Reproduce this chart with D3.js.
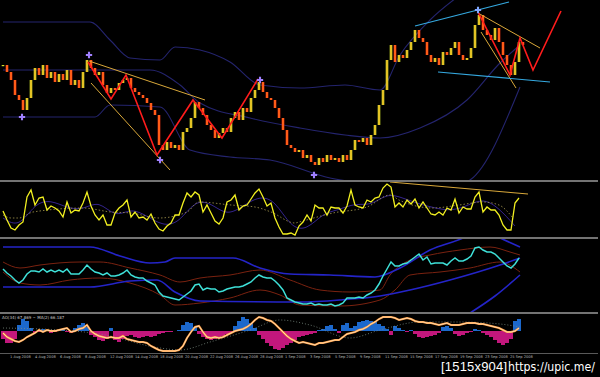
<!DOCTYPE html>
<html lang="en">
<head>
<meta charset="UTF-8">
<title>chart</title>
<script src="https://cdn.jsdelivr.net/npm/d3@7"></script>
<style>
    html, body{ margin:0; padding:0; background:#000; }
    svg{ display:block; }
    .sep{ stroke:#9a9a9a; stroke-width:1.6; }
</style>
</head>
<body>
<svg id="main-svg" width="600" height="377"></svg>
<script>

// closes per bar (main panel, arbitrary price units)
const closes = [115,108,100,85,80,70,82,100,112,105,
    115,102,108,98,106,100,110,95,100,92,
    108,120,112,105,108,95,87,92,90,97,
    100,102,92,88,85,82,77,70,65,35,
    30,38,32,35,30,48,52,62,78,72,
    65,55,50,42,47,52,48,62,68,60,
    72,68,82,90,98,88,82,80,72,62,
    50,35,32,28,30,22,25,18,15,22,
    18,25,20,22,18,25,20,30,40,38,
    42,35,45,55,75,90,120,135,118,125,
    122,130,138,150,142,138,125,118,122,115,
    128,125,132,138,125,120,122,132,155,165,
    150,145,140,152,138,125,115,105,118,138,
    135];

// bands on price panel: [bar, price]
const bandUpper = [[0,158],[21.75,158],[26.75,140],[31.75,122],[39.25,120],[43,133],[49.25,130],[56.75,118],[64.25,95],[74.25,92],[85.5,95],[94.25,90],[99.25,125],[106.75,160],[114.25,185]];
const bandMid = [[0,110],[36.75,110],[44.25,95],[49.25,77],[61.75,62],[74.25,52],[85.5,45],[94.25,42],[104.25,52],[116,80],[124.25,117],[129.25,135]];
const bandLower = [[0,63],[23,63],[26.75,75],[39.25,73],[46.75,30],[56.75,23],[66.75,20],[81.75,2],[94.25,-5],[109.25,-10],[116.75,0],[129.25,93]];

// zigzag + pattern lines
const zigLeft = [[21.25,118],[27,81],[30.75,105],[38.5,25],[47.5,80],[54.75,42],[63.75,101]];
const zigRight = [[118.75,168],[126.75,105],[129.25,142],[132.5,110],[139.5,169]];
const trendOrange = [
    [[21.5,119],[50.5,80]],
    [[22,97],[41.75,10]],
    [[118.75,167],[134.25,132]],
    [[119.5,148],[128.25,92]]
];
const trendCyan = [
    [[103,154],[126.5,178]],
    [[108.75,108],[136.75,98]]
];
const markers = [[4.75,63,'#a080ff'],[21.5,125,'#a080ff'],[39.25,20,'#a080ff'],[64.25,100,'#a080ff'],[77.75,5,'#a080ff'],[118.75,170,'#80a8ff']];

// oscillator panel
const osc = [27,18,10,8,13,16,41,48,33,40,
    41,28,32,30,27,21,36,25,28,27,
    35,46,32,23,18,23,13,13,25,30,
    33,38,21,26,20,21,18,24,15,9,
    7,12,15,23,23,35,45,41,46,43,
    26,33,25,17,14,20,36,38,43,28,
    32,33,39,45,49,41,32,35,20,11,
    4,4,5,3,12,16,23,17,33,30,
    30,23,31,30,30,25,32,48,33,31,
    30,38,36,40,41,50,54,51,31,35,
    31,38,34,39,30,36,30,24,23,26,
    23,30,28,39,25,31,29,29,41,46,
    26,31,28,28,23,13,8,8,35,40];
const oscSlow = [[0,20],[4,10],[8,35],[12,38],[16,30],[20,28],[24,38],[28,20],[32,30],[36,22],[40,12],[44,15],[48,38],[52,35],[56,22],[60,32],[64,42],[68,38],[72,10],[76,8],[80,25],[84,28],[88,35],[92,32],[96,45],[100,40],[104,34],[108,30],[112,27],[116,32],[120,40],[124,30],[128,12]];
const oscSignal = [[0,23],[2,20],[4,20],[7.5,26],[20,30],[27,26],[32,25],[39,20],[46,26],[49,36],[57,33],[63,31],[67,26],[73,15],[74,16],[82.5,25],[91,31],[96.75,43],[99,38],[107.5,30],[114,33],[120,36],[124,33],[127.5,20]];
const oscTrend = [[96.75,56],[131.25,44]];

// trend panel (cyan line + channels)
const trendLine = [44,40,37,33,30,33,39,42,42,41,
    44,41,43,41,43,41,44,39,39,39,
    43,48,44,41,40,38,40,37,37,38,
    40,43,38,36,35,35,32,30,28,21,
    17,16,15,14,13,16,19,22,28,29,
    23,25,24,24,21,22,24,25,26,26,
    27,29,31,35,38,36,35,35,32,28,
    23,15,13,11,10,9,9,10,8,9,
    8,8,9,7,8,10,15,15,15,16,
    15,18,20,23,29,37,44,51,47,47,
    49,50,53,56,59,53,56,49,50,50,
    50,48,52,55,52,52,54,57,65,66,
    63,61,61,59,55,51,47,45,49,55];
const chanBlue = [
    [[0,66],[21.75,66],[29.25,57],[36.75,50],[40.5,51],[43,55],[57.5,55],[64.25,45],[71.75,39],[81.75,38],[93,36],[99.25,45],[106.75,63],[115,75],[118,81]],
    [[0,26],[21.75,26],[31.75,32],[38.5,33],[43,21],[49.25,12],[74.25,11],[84.25,13],[94.25,17],[101.75,23],[111.75,33],[124.25,48],[129.25,55]],
    [[116.75,0],[123,17],[129.25,38]],
    [[124.25,75],[129.25,66]]
];
const chanBrown = [
    [[0,51],[4.25,45],[9.25,48],[19.25,51],[24.25,51],[31.75,45],[39.25,38],[44.25,31],[49.25,35],[56.75,38],[64.25,43],[71.75,33],[79.25,23],[86.75,21],[94.25,23],[96.75,38],[101.75,53],[106.75,58],[114.25,63],[121.75,66],[126.75,61],[129.25,58]],
    [[0,41],[4.25,30],[9.25,28],[16.75,33],[24.25,35],[31.75,30],[39.25,18],[43,8],[49.25,10],[56.75,15],[64.25,23],[69.25,18],[74.25,8],[84.25,7],[94.25,13],[98,23],[101.75,38],[109.25,41],[116.75,45],[124.25,51],[129.25,41]]
];

// histogram panel
const hist = [-8,-12,-12,-8,6,12,10,3,-2,-1,
    2,1,-2,-1,1,2,-1,-2,3,6,
    8,4,-4,-6,-9,-10,-8,3,-9,-11,
    -8,-5,-4,-6,-7,-6,-5,-6,-5,-3,
    -2,-1,-1,0,1,6,9,8,4,-3,
    -6,-8,-9,-8,-7,-5,-3,-2,5,10,
    14,12,8,3,-4,-8,-12,-15,-18,-19,
    -17,-14,-12,-9,-6,-5,-4,-3,-2,1,
    2,5,6,2,-2,6,8,3,5,9,
    10,11,10,9,7,5,2,-4,5,3,
    1,-1,1,-3,-6,-7,-6,-5,-4,-2,
    4,5,3,-3,-5,-4,-2,-1,2,1,
    -2,-4,-6,-9,-12,-14,-12,-8,10,12];
const histLine = [-2,-6,-8,-10,-11,-9,-6,-4,-2,1,
    -1,1,0,0,1,2,3,-1,0,2,
    3,6,0,-3,-5,-6,-7,-6,-7,-7,
    -5,-8,-9,-10,-11,-11,-12,-15,-17,-19,
    -20,-20,-20,-20,-19,-15,-7,-1,4,5,
    -1,-6,-7,-6,-7,-6,-4,-2,0,1,
    2,4,7,11,14,13,11,10,7,3,
    -1,-5,-8,-10,-12,-11,-12,-13,-14,-12,
    -12,-11,-10,-9,-9,-6,-3,-2,-1,1,
    2,4,7,9,12,14,14,14,13,11,
    12,13,12,10,9,9,8,8,7,6,
    7,8,6,6,6,7,8,8,8,7,
    7,6,5,4,3,1,-1,-1,0,3];
const histDots = [[0,3],[14.25,1],[24.25,-3],[39.25,-17],[44.25,-19],[51.75,-11],[61.75,1],[69.25,11],[76.75,6],[86.75,-7],[94.25,1],[104.25,9],[114.25,9],[124.25,7],[129.25,4]];

const legendText = 'AO(34) 67.869  ~ MA(2) 66.187';
const dateLabels = ['1 Aug 2008','4 Aug 2008','6 Aug 2008','8 Aug 2008','12 Aug 2008','14 Aug 2008','18 Aug 2008','20 Aug 2008','22 Aug 2008','26 Aug 2008','28 Aug 2008','1 Sep 2008','3 Sep 2008','5 Sep 2008','9 Sep 2008','11 Sep 2008','15 Sep 2008','17 Sep 2008','19 Sep 2008','23 Sep 2008','25 Sep 2008'];

let svg = d3.select('#main-svg');

const xs = d3.scaleLinear().domain([0,130]).range([3,523]);
const yPrice = d3.scaleLinear().domain([0,180]).range([180,0]);
const yOsc = d3.scaleLinear().domain([0,57]).range([238,181]);
const yTr = d3.scaleLinear().domain([0,75]).range([313,238]);
const yHist = d3.scaleLinear().domain([-22,18]).range([353,313]);

svg.append('rect').attr('width',600).attr('height',377).style('fill','#000');

// clip regions for the panels
let defs = svg.append('defs');
[['c-main',0,0,600,180],['c-osc',0,182,600,55],['c-tr',0,239,600,73],['c-hist',0,314,600,39]].forEach(c=>{
    defs.append('clipPath').attr('id',c[0]).append('rect')
        .attr('x',c[1]).attr('y',c[2]).attr('width',c[3]).attr('height',c[4]);
});

const lineOf = (y, curve) => d3.line().x(d=>xs(d[0])).y(d=>y(d[1])).curve(curve || d3.curveLinear);
const series = arr => arr.map((v,i)=>[i,v]);

// ---------- main price panel
let gMain = svg.append('g').attr('clip-path','url(#c-main)');

[bandUpper,bandMid,bandLower].forEach(b=>{
    gMain.append('path').datum(b)
        .attr('d',lineOf(yPrice,d3.curveMonotoneX))
        .style('fill','none').style('stroke','#24246e').style('stroke-width',1.1);
});

gMain.selectAll('.candle')
    .data(closes)
    .enter()
    .append('rect')
    .attr('class','candle')
    .attr('x',(d,i)=>xs(i)-1.3)
    .attr('width',2.6)
    .attr('y',(d,i)=>{
        let o = i ? closes[i-1] : d;
        return yPrice(Math.max(o,d));
    })
    .attr('height',(d,i)=>{
        let o = i ? closes[i-1] : d;
        return Math.max(1.2, Math.abs(yPrice(o)-yPrice(d)));
    })
    .style('fill',(d,i)=>{
        let o = i ? closes[i-1] : d;
        return d >= o ? '#d2e02a' : '#ff3514';
    });

// wicks in orange on the bar body centre
gMain.selectAll('.wick')
    .data(closes)
    .enter()
    .append('line')
    .attr('x1',(d,i)=>xs(i)).attr('x2',(d,i)=>xs(i))
    .attr('y1',(d,i)=>yPrice(Math.max(i ? closes[i-1] : d, d)))
    .attr('y2',(d,i)=>yPrice(Math.min(i ? closes[i-1] : d, d)))
    .style('stroke','#ff9a20').style('stroke-width',0.8);

trendOrange.forEach(t=>{
    gMain.append('path').datum(t).attr('d',lineOf(yPrice))
        .style('fill','none').style('stroke','#d9a83a').style('stroke-width',1);
});
trendCyan.forEach(t=>{
    gMain.append('path').datum(t).attr('d',lineOf(yPrice))
        .style('fill','none').style('stroke','#35a9e0').style('stroke-width',1.2);
});
[zigLeft,zigRight].forEach(z=>{
    gMain.append('path').datum(z).attr('d',lineOf(yPrice))
        .style('fill','none').style('stroke','#ff1c1c').style('stroke-width',1.6);
});

gMain.selectAll('.mark')
    .data(markers)
    .enter()
    .append('path')
    .attr('transform',d=>'translate('+xs(d[0])+' '+yPrice(d[1])+')')
    .attr('d',d3.symbol().type(d3.symbolCross).size(22))
    .style('fill',d=>d[2]);

// ---------- oscillator panel
let gOsc = svg.append('g').attr('clip-path','url(#c-osc)');
gOsc.append('path').datum(oscSlow).attr('d',lineOf(yOsc,d3.curveBasis))
    .style('fill','none').style('stroke','#34248c').style('stroke-width',1);
gOsc.append('path').datum(oscSignal).attr('d',lineOf(yOsc,d3.curveMonotoneX))
    .style('fill','none').style('stroke','#a89a50').style('stroke-width',0.8)
    .style('stroke-dasharray','1.5,2');
gOsc.append('path').datum(series(osc)).attr('d',lineOf(yOsc))
    .style('fill','none').style('stroke','#f2f020').style('stroke-width',1.3);
gOsc.append('path').datum(oscTrend).attr('d',lineOf(yOsc))
    .style('fill','none').style('stroke','#d9a83a').style('stroke-width',1);

// ---------- trend panel
let gTr = svg.append('g').attr('clip-path','url(#c-tr)');
chanBrown.forEach(c=>{
    gTr.append('path').datum(c).attr('d',lineOf(yTr,d3.curveMonotoneX))
        .style('fill','none').style('stroke','#7a2210').style('stroke-width',1);
});
chanBlue.forEach(c=>{
    gTr.append('path').datum(c).attr('d',lineOf(yTr,d3.curveMonotoneX))
        .style('fill','none').style('stroke','#2424c8').style('stroke-width',1.6);
});
gTr.append('path').datum(series(trendLine)).attr('d',lineOf(yTr))
    .style('fill','none').style('stroke','#3ee0d8').style('stroke-width',1.5);

// ---------- histogram panel
let gHist = svg.append('g').attr('clip-path','url(#c-hist)');
gHist.selectAll('.bar')
    .data(hist)
    .enter()
    .append('rect')
    .attr('x',(d,i)=>xs(i)-2)
    .attr('width',4)
    .attr('y',d=>yHist(Math.max(0,d)))
    .attr('height',d=>Math.abs(yHist(d)-yHist(0)))
    .style('fill',d=>d >= 0 ? '#1c68cc' : '#c2177c');
gHist.append('path').datum(histDots).attr('d',lineOf(yHist,d3.curveMonotoneX))
    .style('fill','none').style('stroke','#7a8a80').style('stroke-width',0.8)
    .style('stroke-dasharray','1,2');
gHist.append('path').datum(series(histLine)).attr('d',lineOf(yHist))
    .style('fill','none').style('stroke','#ff9a3c').style('stroke-width',2);
gHist.append('path').datum(series(histLine)).attr('d',lineOf(yHist))
    .style('fill','none').style('stroke','#fff2d8').style('stroke-width',0.7);

svg.append('text').attr('x',2).attr('y',319).text(legendText)
    .style('fill','#c8c8c8').style('font-family','DejaVu Sans').style('font-size','4px');

// separators and time axis
[181,238,313].forEach(y=>{
    svg.append('line').attr('class','sep').attr('x1',0).attr('x2',598).attr('y1',y).attr('y2',y);
});
svg.append('line').attr('x1',0).attr('x2',598).attr('y1',353.5).attr('y2',353.5)
    .style('stroke','#707070').style('stroke-width',0.8);

svg.selectAll('.dlab')
    .data(dateLabels)
    .enter()
    .append('text')
    .attr('x',(d,i)=>xs(1.75 + i*6.25))
    .attr('y',357.5)
    .text(d=>d)
    .style('fill','#b8b8b8').style('font-family','DejaVu Sans').style('font-size','3.6px');

// watermark
let wm = svg.append('text').attr('x',441).attr('y',371)
    .style('fill','#fff').style('font-size','13px');
wm.append('tspan').text('[1515x904]').style('font-family','Liberation Sans').attr('textLength',66);
wm.append('tspan').attr('x',508).text('https://upic.me/').style('font-family','DejaVu Sans Condensed, DejaVu Sans').attr('textLength',87).attr('lengthAdjust','spacingAndGlyphs');

</script>
</body>
</html>
